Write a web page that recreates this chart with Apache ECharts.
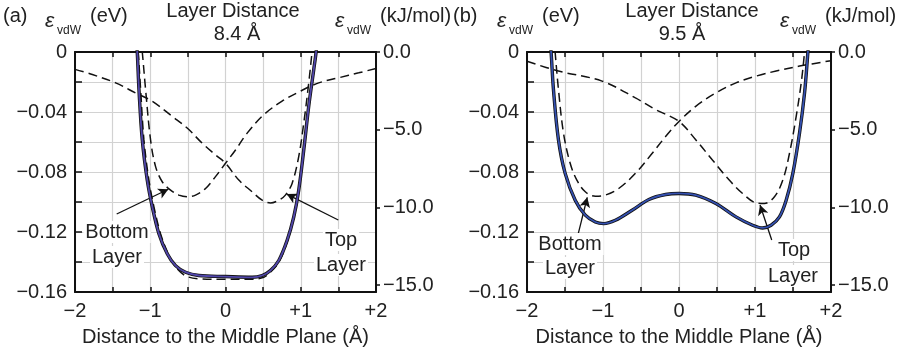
<!DOCTYPE html>
<html>
<head>
<meta charset="utf-8">
<script src="https://cdn.jsdelivr.net/npm/echarts@6/dist/echarts.min.js"></script>
<style>
  html, body { margin: 0; padding: 0; background: #fff; }
  #chart { width: 904px; height: 356px; }
</style>
</head>
<body>
<div id="chart"></div>
<script>
// van der Waals energy profiles across the interlayer gap (eV), two layer distances
const EV_TO_KJMOL = 96.485;

// x tick labels (Å) and y tick labels (eV, kJ/mol)
const xTickValues = [-2, -1, 0, 1, 2];
const eVTickValues = [0, -0.04, -0.08, -0.12, -0.16];
const kjTickValues = [0, -5, -10, -15];

// (a) layer distance 8.4 Å
const aBottomX = [-1.13, -1.106, -1.062, -0.996, -0.929, -0.841, -0.73, -0.619, -0.5, -0.398, -0.265, -0.133, 0, 0.133, 0.288, 0.509, 0.752, 0.996, 1.239, 1.504, 1.77, 2.0];
const aBottomE = [0.01, 0, -0.025, -0.0585, -0.0764, -0.0865, -0.0921, -0.0954, -0.0965, -0.0954, -0.091, -0.0831, -0.0742, -0.0653, -0.0541, -0.0418, -0.0328, -0.0261, -0.0206, -0.0172, -0.0139, -0.011];
const aTopX = [-2, -1.77, -1.46, -1.195, -0.973, -0.708, -0.509, -0.31, -0.133, 0, 0.177, 0.354, 0.487, 0.597, 0.708, 0.796, 0.885, 0.973, 1.04, 1.106, 1.15, 1.17];
const aTopE = [-0.0116, -0.015, -0.0206, -0.0273, -0.0328, -0.0429, -0.0507, -0.0608, -0.0686, -0.0742, -0.0854, -0.0932, -0.0988, -0.1006, -0.0988, -0.0954, -0.0876, -0.0697, -0.0474, -0.0206, 0, 0.01];
const aSumX = [-1.18, -1.16, -1.128, -1.084, -1.018, -0.951, -0.863, -0.752, -0.642, -0.509, -0.31, 0, 0.354, 0.509, 0.597, 0.708, 0.819, 0.907, 0.973, 1.04, 1.106, 1.173, 1.204, 1.22];
const aSumE = [0.01, 0, -0.025, -0.0586, -0.0854, -0.1032, -0.1211, -0.1357, -0.1446, -0.1497, -0.1513, -0.1515, -0.1515, -0.1502, -0.1468, -0.1401, -0.1267, -0.11, -0.0921, -0.0653, -0.0362, -0.0116, 0, 0.01];
const aTotalX = [-1.19, -1.173, -1.15, -1.106, -1.04, -0.973, -0.885, -0.774, -0.664, -0.531, -0.354, 0, 0.354, 0.487, 0.597, 0.708, 0.819, 0.907, 0.973, 1.04, 1.106, 1.173, 1.204, 1.22];
const aTotalE = [0.01, 0, -0.025, -0.0586, -0.0854, -0.1032, -0.1211, -0.1345, -0.1424, -0.1468, -0.149, -0.1497, -0.1502, -0.149, -0.1457, -0.139, -0.1256, -0.11, -0.0921, -0.0653, -0.0362, -0.0116, 0, 0.01];

// (b) layer distance 9.5 Å
const bBottomX = [-1.645, -1.63, -1.586, -1.52, -1.432, -1.344, -1.233, -1.101, -0.969, -0.793, -0.573, -0.352, -0.176, 0, 0.22, 0.485, 0.749, 1.013, 1.278, 1.586, 2.0];
const bBottomE = [0.01, 0, -0.025, -0.054, -0.0742, -0.0854, -0.0932, -0.0961, -0.0954, -0.091, -0.0809, -0.0675, -0.0563, -0.0463, -0.0362, -0.0273, -0.0206, -0.0161, -0.0127, -0.0094, -0.0058];
const bTopX = [-2, -1.586, -1.013, -0.573, -0.308, 0, 0.22, 0.44, 0.661, 0.837, 1.013, 1.123, 1.256, 1.366, 1.454, 1.542, 1.608, 1.652, 1.665];
const bTopE = [-0.0062, -0.0127, -0.0194, -0.0306, -0.0384, -0.0463, -0.0585, -0.072, -0.0854, -0.0943, -0.1006, -0.101, -0.0965, -0.0854, -0.0675, -0.0429, -0.0206, 0, 0.01];
const bTotalX = [-1.70, -1.683, -1.652, -1.586, -1.498, -1.366, -1.233, -1.101, -0.991, -0.837, -0.617, -0.396, -0.176, 0, 0.22, 0.485, 0.749, 0.969, 1.101, 1.211, 1.322, 1.41, 1.498, 1.586, 1.652, 1.696, 1.71];
const bTotalE = [0.01, 0, -0.025, -0.0586, -0.0809, -0.0988, -0.1088, -0.1133, -0.1144, -0.1122, -0.1055, -0.0983, -0.095, -0.0943, -0.0954, -0.101, -0.1099, -0.1155, -0.1173, -0.1155, -0.1099, -0.0988, -0.0809, -0.054, -0.0273, 0, 0.01];

// annotation arrows: [tailX, tailE, headX, headE]
const aBottomArrow = [-1.446, -0.108, -0.76, -0.0915];
const aTopArrow = [1.499, -0.112, 0.813, -0.0947];
const bBottomArrow = [-1.325, -0.1209, -1.207, -0.0969];
const bTopArrow = [1.22, -0.1253, 1.066, -0.102];

const FONT = "'Liberation Sans', Arial, Helvetica, sans-serif";
const TEXT = '#222';
const MINUS = '\u2212';

const pairs = (xs, ys) => xs.map((x, i) => [x, ys[i]]);

function xLabel(v) {
  const r = Math.round(v * 10) / 10;
  if (r === 0) return '0';
  return (r < 0 ? MINUS : '+') + Math.abs(r);
}
function eVLabel(v) {
  const r = Math.round(v * 100) / 100;
  if (r === 0) return '0';
  return MINUS + Math.abs(r).toFixed(2);
}
function kjLabel(v) {
  const r = Math.round(v * 10) / 10;
  if (r === 0) return '0.0';
  return MINUS + Math.abs(r).toFixed(1);
}

const axisLineStyle = { show: true, onZero: false, lineStyle: { color: '#111', width: 2 } };
const gridLine = { show: true, lineStyle: { color: '#d2d2d2', width: 1.2 } };

function xAxes(gi) {
  return [
    {
      type: 'value', gridIndex: gi, position: 'bottom',
      min: -2, max: 2, interval: 0.5,
      axisLine: axisLineStyle,
      axisTick: { show: true, inside: true, length: 5, lineStyle: { color: '#111', width: 1.5 } },
      axisLabel: { customValues: xTickValues, formatter: xLabel, fontFamily: FONT, fontSize: 20, color: TEXT, margin: 9 },
      splitLine: gridLine,
      name: 'Distance to the Middle Plane (Å)', nameLocation: 'middle', nameGap: 35,
      nameTextStyle: { fontFamily: FONT, fontSize: 20, color: TEXT }
    },
    {
      type: 'value', gridIndex: gi, position: 'top',
      min: -2, max: 2, interval: 0.5,
      axisLine: axisLineStyle,
      axisTick: { show: true, inside: true, length: 5, lineStyle: { color: '#111', width: 1.5 } },
      axisLabel: { show: false },
      splitLine: { show: false }
    }
  ];
}

function yAxes(gi) {
  return [
    {
      type: 'value', gridIndex: gi, position: 'left',
      min: -0.16, max: 0, interval: 0.02,
      axisLine: axisLineStyle,
      axisTick: { show: true, inside: true, length: 7, lineStyle: { color: '#111', width: 1.5 } },
      axisLabel: { customValues: eVTickValues, formatter: eVLabel, fontFamily: FONT, fontSize: 20, color: TEXT, margin: 8 },
      splitLine: gridLine
    },
    {
      type: 'value', gridIndex: gi, position: 'right',
      min: -0.16 * EV_TO_KJMOL, max: 0,
      axisLine: axisLineStyle,
      axisTick: { show: true, inside: false, length: 4, customValues: kjTickValues, lineStyle: { color: '#111', width: 1.5 } },
      axisLabel: { customValues: kjTickValues, formatter: kjLabel, fontFamily: FONT, fontSize: 20, color: TEXT, margin: 7 },
      splitLine: { show: false }
    }
  ];
}

const dashed = { color: '#111', width: 1.5, type: [9, 5] };

function arrowLine(a) {
  return {
    silent: true,
    symbol: ['none', 'arrow'],
    symbolSize: [8, 10],
    label: { show: false },
    lineStyle: { color: '#111', width: 1.3, type: 'solid' },
    data: [[{ coord: [a[0], a[1]] }, { coord: [a[2], a[3]] }]]
  };
}

function panelSeries(gi, d) {
  const xi = gi * 2, yi = gi * 2;
  const base = { type: 'line', xAxisIndex: xi, yAxisIndex: yi, showSymbol: false, symbol: 'none', smooth: 0.35, clip: true, animation: false };
  const list = [
    Object.assign({}, base, { name: 'Bottom Layer', data: pairs(d.bottomX, d.bottomE), lineStyle: dashed, z: 3,
      markLine: arrowLine(d.bottomArrow) }),
    Object.assign({}, base, { name: 'Top Layer', data: pairs(d.topX, d.topE), lineStyle: dashed, z: 3,
      markLine: arrowLine(d.topArrow) })
  ];
  if (d.sumX) {
    list.push(Object.assign({}, base, { name: 'Sum', data: pairs(d.sumX, d.sumE), lineStyle: dashed, z: 3 }));
  }
  list.push(Object.assign({}, base, { name: 'Total outline', data: pairs(d.totalX, d.totalE), lineStyle: { color: '#111', width: 3.4 }, z: 4 }));
  list.push(Object.assign({}, base, { name: 'Total', data: pairs(d.totalX, d.totalE), lineStyle: { color: d.color, width: 1.8 }, z: 5 }));
  return list;
}

function txt(x, y, text, opts) {
  return {
    type: 'text', x: x, y: y, silent: true, z: 10,
    style: Object.assign({ text: text, fontFamily: FONT, fontSize: 20, fill: TEXT, align: 'left', verticalAlign: 'middle' }, opts || {})
  };
}

// in-plot annotation labels sit on a white box so gridlines stop at the text
function note(x, y, text) {
  return txt(x, y, text, { align: 'center', backgroundColor: '#fff', padding: [1, 2, 1, 2] });
}

function epsLabel(x, unit) {
  return [
    txt(x, 21, 'ε', { fontStyle: 'italic', fontSize: 21 }),
    txt(x + 12, 31, 'vdW', { fontSize: 12 }),
    txt(x + 45, 16, unit)
  ];
}

const graphics = [].concat(
  [txt(3, 16, '(a)')],
  epsLabel(45, '(eV)'),
  [txt(233, 11, 'Layer Distance', { align: 'center' }), txt(237, 34, '8.4 Å', { align: 'center' })],
  epsLabel(335, '(kJ/mol)'),
  [note(117, 232, 'Bottom'), note(117, 257, 'Layer'),
   note(341, 240, 'Top'), note(341, 265, 'Layer')],
  [txt(453, 16, '(b)')],
  epsLabel(497, '(eV)'),
  [txt(692, 11, 'Layer Distance', { align: 'center' }), txt(682, 34, '9.5 Å', { align: 'center' })],
  epsLabel(780, '(kJ/mol)'),
  [note(570, 244, 'Bottom'), note(570, 268, 'Layer'),
   note(794, 250, 'Top'), note(793, 276, 'Layer')]
);

const chart = echarts.init(document.getElementById('chart'), null, { renderer: 'canvas' });
chart.setOption({
  animation: false,
  backgroundColor: '#fff',
  grid: [
    { left: 75, top: 52, width: 301, height: 240 },
    { left: 527, top: 52, width: 304, height: 240 }
  ],
  xAxis: xAxes(0).concat(xAxes(1)),
  yAxis: yAxes(0).concat(yAxes(1)),
  series: [].concat(
    panelSeries(0, {
      bottomX: aBottomX, bottomE: aBottomE, topX: aTopX, topE: aTopE,
      sumX: aSumX, sumE: aSumE, totalX: aTotalX, totalE: aTotalE,
      bottomArrow: aBottomArrow, topArrow: aTopArrow, color: '#5046aa'
    }),
    panelSeries(1, {
      bottomX: bBottomX, bottomE: bBottomE, topX: bTopX, topE: bTopE,
      totalX: bTotalX, totalE: bTotalE,
      bottomArrow: bBottomArrow, topArrow: bTopArrow, color: '#3450b0'
    })
  ),
  graphic: graphics
});
</script>
</body>
</html>
